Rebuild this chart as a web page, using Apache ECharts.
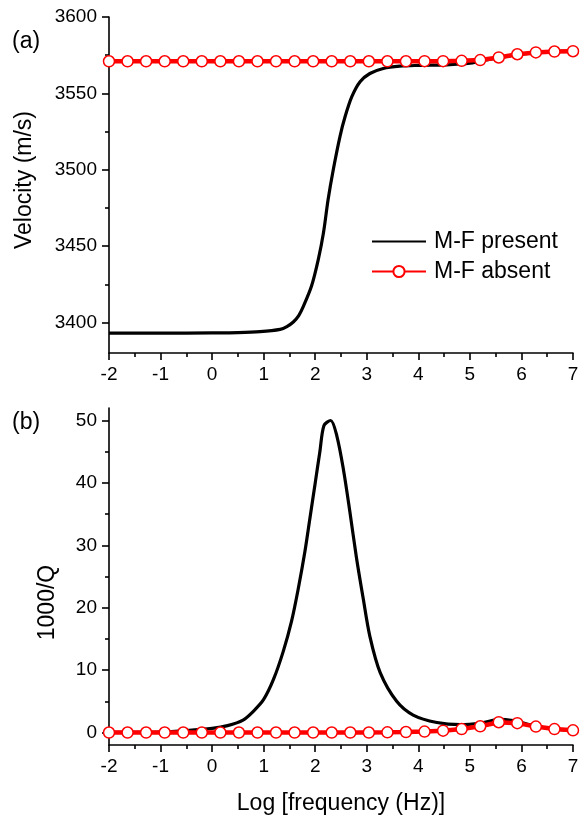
<!DOCTYPE html>
<html>
<head>
<meta charset="utf-8">
<script src="https://cdn.jsdelivr.net/npm/echarts@6/dist/echarts.min.js"></script>
<style>
  html, body { margin: 0; padding: 0; background: #fff; }
  #chart { width: 585px; height: 820px; }
</style>
</head>
<body>
<div id="chart"></div>
<script>
// Log10 frequency positions of the open-circle markers (M-F absent)
const markerLogF = [-2, -1.64, -1.28, -0.92, -0.56, -0.2, 0.16, 0.52, 0.88, 1.24, 1.6, 1.96, 2.32,
  2.68, 3.04, 3.4, 3.76, 4.12, 4.48, 4.84, 5.2, 5.56, 5.92, 6.28, 6.64, 7];
// Velocity without mesoscopic flow (m/s)
const velocityAbsent = [3571, 3571, 3571, 3571, 3571, 3571, 3571, 3571, 3571, 3571, 3571, 3571, 3571,
  3571, 3571, 3571, 3571, 3571.1, 3571.1, 3571.3, 3571.8, 3573.5, 3575.6, 3576.8, 3577.4, 3577.6];
// Attenuation without mesoscopic flow (1000/Q)
const qAbsent = [0, 0, 0, 0, 0, 0, 0, 0, 0, 0, 0, 0, 0, 0, 0,
  0.03, 0.08, 0.15, 0.3, 0.55, 1.0, 1.65, 1.5, 0.95, 0.55, 0.35];

// Velocity with mesoscopic flow
const velLogF = [-2, -1, 0, 0.5, 0.93, 1.32, 1.45, 1.575, 1.68, 1.77, 1.93, 2.06, 2.16, 2.25, 2.35,
  2.48, 2.58, 2.71, 2.87, 3.06, 3.32, 3.64, 4.0, 4.54, 5.0, 5.2, 5.56, 5.92, 6.28, 6.64, 7];
const velocityPresent = [3393, 3393, 3393.2, 3393.4, 3394, 3395.5, 3397.3, 3400.3, 3404.5, 3410.5,
  3424, 3441.3, 3458.7, 3480.5, 3500, 3521.7, 3534.8, 3547.8, 3557.6, 3563, 3566.3, 3567.8, 3568.3,
  3568.7, 3569.7, 3571.2, 3573.3, 3575.5, 3576.7, 3577.3, 3577.6];

// Attenuation with mesoscopic flow
const qLogF = [-2, -1, -0.5, 0, 0.3, 0.6, 0.8, 1.0, 1.19, 1.38, 1.54, 1.67, 1.8, 1.9, 2.0, 2.09, 2.17,
  2.3, 2.42, 2.55, 2.67, 2.8, 2.93, 3.06, 3.26, 3.58, 3.9, 4.36, 4.81, 5.2, 5.58, 5.84, 6.0, 6.28,
  6.64, 7];
const qPresent = [0.02, 0.08, 0.3, 0.65, 1.1, 2.0, 3.4, 5.3, 8.5, 13, 17.8, 23, 29, 34.5, 40, 45, 49.2,
  50.0, 47.5, 42, 35.5, 28, 21.5, 15.4, 9.6, 5.0, 2.8, 1.6, 1.25, 1.5, 2.1, 1.9, 1.6, 1.0,
  0.55, 0.35];

// Axis ticks
const velMajorTicks = [3400, 3450, 3500, 3550, 3600];
const velMinorTicks = [3425, 3475, 3525, 3575];
const qMajorTicks = [0, 10, 20, 30, 40, 50];
const qMinorTicks = [5, 15, 25, 35, 45];

const FONT = "'Liberation Sans', Arial, sans-serif";
const pair = (xs, ys) => xs.map((x, i) => [x, ys[i]]);

const chart = echarts.init(document.getElementById('chart'), null, { renderer: 'canvas' });

const axisLine = { show: true, onZero: false, lineStyle: { color: '#000', width: 1.6 } };
const tickLabel = { color: '#000', fontSize: 19, fontFamily: FONT, margin: 12, formatter: v => String(v) };

function xAxis(gridIndex, withName) {
  return {
    type: 'value', gridIndex, min: -2, max: 7, interval: 1, position: 'bottom',
    axisLine, splitLine: { show: false },
    axisTick: { show: true, length: 7, lineStyle: { color: '#000', width: 1.6 } },
    minorTick: { show: true, splitNumber: 2, length: 4, lineStyle: { color: '#000', width: 1.6 } },
    axisLabel: tickLabel,
    name: withName ? 'Log [frequency (Hz)]' : '',
    nameLocation: 'middle', nameGap: 47,
    nameTextStyle: { color: '#000', fontSize: 23, fontFamily: FONT }
  };
}

function yMajor(gridIndex, min, max, ticks, name, gap, pad) {
  return {
    type: 'value', gridIndex, min, max, position: 'left',
    axisLine, splitLine: { show: false },
    axisTick: { show: true, length: 7, customValues: ticks, lineStyle: { color: '#000', width: 1.6 } },
    axisLabel: Object.assign({ customValues: ticks }, tickLabel),
    name, nameLocation: 'middle', nameGap: gap,
    nameTextStyle: { color: '#000', fontSize: 23, fontFamily: FONT, padding: pad }
  };
}

function yMinor(gridIndex, min, max, ticks) {
  return {
    type: 'value', gridIndex, min, max, position: 'left', offset: 0,
    axisLine: { show: false, onZero: false }, splitLine: { show: false },
    axisTick: { show: true, length: 4, customValues: ticks, lineStyle: { color: '#000', width: 1.6 } },
    axisLabel: { show: false }
  };
}

const presentStyle = {
  type: 'line', symbol: 'none', showSymbol: false, smooth: 0.3,
  lineStyle: { color: '#000', width: 3.2 }, itemStyle: { color: 'rgba(0,0,0,0)', opacity: 0 }
};
const absentStyle = {
  type: 'line', symbol: 'circle', symbolSize: 11, showSymbol: true,
  lineStyle: { color: '#ff0000', width: 4.5 },
  itemStyle: { color: '#ffffff', borderColor: '#ff0000', borderWidth: 1.5 }
};

chart.setOption({
  animation: false,
  backgroundColor: '#fff',
  textStyle: { fontFamily: FONT },
  grid: [
    { left: 109, top: 17, width: 464, height: 336 },
    { left: 109, top: 408, width: 464, height: 337 }
  ],
  legend: {
    data: ['M-F present', 'M-F absent'],
    orient: 'vertical', left: 366, top: 225,
    itemWidth: 54, itemHeight: 14, itemGap: 7,
    textStyle: { color: '#000', fontSize: 23, fontFamily: FONT, lineHeight: 23, padding: [0, 0, 0, 3] }
  },
  xAxis: [xAxis(0, false), xAxis(1, true)],
  yAxis: [
    yMajor(0, 3380, 3600, velMajorTicks, 'Velocity (m/s)', 73, [0, 0, 0, 10]),
    yMinor(0, 3380, 3600, velMinorTicks),
    yMajor(1, -2, 52, qMajorTicks, '1000/Q', 50, [0, 52, 0, 0]),
    yMinor(1, -2, 52, qMinorTicks)
  ],
  graphic: [
    { type: 'text', left: 12, top: 30, style: { text: '(a)', fontSize: 23, fontFamily: FONT, fill: '#000' } },
    { type: 'text', left: 12, top: 411, style: { text: '(b)', fontSize: 23, fontFamily: FONT, fill: '#000' } }
  ],
  series: [
    Object.assign({ name: 'M-F present', xAxisIndex: 0, yAxisIndex: 0, data: pair(velLogF, velocityPresent) }, presentStyle),
    Object.assign({ name: 'M-F absent', xAxisIndex: 0, yAxisIndex: 0, data: pair(markerLogF, velocityAbsent) }, absentStyle),
    Object.assign({ name: 'M-F present', xAxisIndex: 1, yAxisIndex: 2, data: pair(qLogF, qPresent) }, presentStyle),
    Object.assign({ name: 'M-F absent', xAxisIndex: 1, yAxisIndex: 2, data: pair(markerLogF, qAbsent) }, absentStyle)
  ]
});
</script>
</body>
</html>
